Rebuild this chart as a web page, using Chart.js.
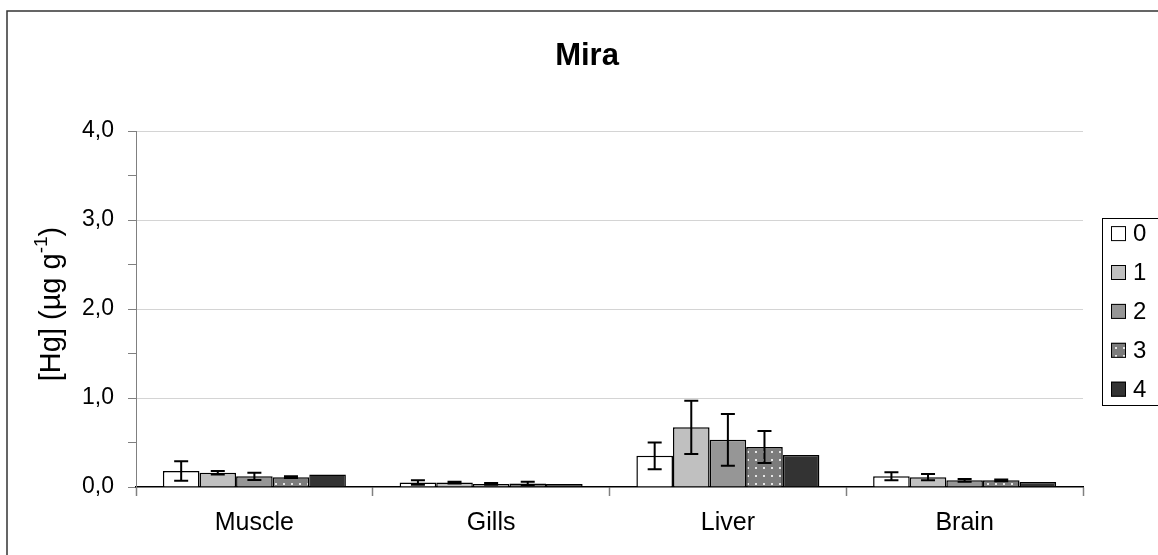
<!DOCTYPE html>
<html>
<head>
<meta charset="utf-8">
<title>Mira</title>
<script src="https://cdn.jsdelivr.net/npm/chart.js@4.4.1/dist/chart.umd.min.js"></script>
<style>
  html, body { margin: 0; padding: 0; background: #ffffff; }
  #wrap { width: 1158px; height: 555px; position: relative; }
</style>
</head>
<body>
<div id="wrap"><canvas id="chart" width="1158" height="555"></canvas></div>
<script>
// Tissues and exposure groups
const categories = ['Muscle', 'Gills', 'Liver', 'Brain'];
const seriesNames = ['0', '1', '2', '3', '4'];

// Mean [Hg] (µg g-1) per group, one value per tissue
const group0 = [0.18, 0.05, 0.35, 0.12];
const group1 = [0.16, 0.05, 0.67, 0.11];
const group2 = [0.12, 0.035, 0.53, 0.075];
const group3 = [0.11, 0.04, 0.45, 0.075];
const group4 = [0.14, 0.035, 0.36, 0.055];

// Standard deviations
const err0 = [0.11, 0.025, 0.15, 0.045];
const err1 = [0.02, 0.01, 0.30, 0.035];
const err2 = [0.04, 0.01, 0.29, 0.015];
const err3 = [0.01, 0.02, 0.18, 0.01];
const err4 = [0, 0, 0, 0];

// Y axis ticks (labels only on whole units)
const yTicks = [0, 0.5, 1, 1.5, 2, 2.5, 3, 3.5, 4];

const FONT = "'Liberation Sans', Arial, sans-serif";

// Dotted fill for group 3
function dottedPattern() {
  const c = document.createElement('canvas');
  c.width = 8; c.height = 8;
  const g = c.getContext('2d');
  g.fillStyle = '#7c7c7c';
  g.fillRect(0, 0, 8, 8);
  g.fillStyle = '#e6e6e6';
  g.fillRect(3, 3, 2, 2);
  return g.createPattern(c, 'repeat');
}

const fills = ['#ffffff', '#c0c0c0', '#969696', dottedPattern(), '#333333'];
const values = [group0, group1, group2, group3, group4];
const errors = [err0, err1, err2, err3, err4];

const datasets = seriesNames.map((name, i) => ({
  label: name,
  data: values[i],
  errors: errors[i],
  backgroundColor: fills[i],
  borderColor: '#000000',
  borderWidth: 1.5,
  barPercentage: 1.0,
  categoryPercentage: 0.773
}));

// White background and outer frame, title
const framePlugin = {
  id: 'frame',
  beforeDraw(chart) {
    const ctx = chart.ctx;
    ctx.save();
    ctx.fillStyle = '#ffffff';
    ctx.fillRect(0, 0, chart.width, chart.height);
    ctx.strokeStyle = '#333333';
    ctx.lineWidth = 1.5;
    ctx.strokeRect(7, 11, 1300, 700);
    ctx.fillStyle = '#000000';
    ctx.font = 'bold 31px ' + FONT;
    ctx.textAlign = 'center';
    ctx.textBaseline = 'alphabetic';
    ctx.fillText('Mira', 587, 65);
    ctx.restore();
  }
};

// Error bars drawn from each dataset's errors array
const errorBarPlugin = {
  id: 'errorBars',
  afterDatasetsDraw(chart) {
    const ctx = chart.ctx;
    const y = chart.scales.y;
    ctx.save();
    ctx.strokeStyle = '#000000';
    ctx.lineWidth = 2;
    chart.data.datasets.forEach((ds, i) => {
      const meta = chart.getDatasetMeta(i);
      meta.data.forEach((bar, j) => {
        const e = ds.errors[j];
        if (!e) return;
        const v = ds.data[j];
        const top = y.getPixelForValue(v + e);
        const bot = y.getPixelForValue(v - e);
        const half = 7;
        ctx.beginPath();
        ctx.moveTo(bar.x, top); ctx.lineTo(bar.x, bot);
        ctx.moveTo(bar.x - half, top); ctx.lineTo(bar.x + half, top);
        ctx.moveTo(bar.x - half, bot); ctx.lineTo(bar.x + half, bot);
        ctx.stroke();
      });
    });
    ctx.restore();
  }
};

// Rotated axis title with superscript, and the boxed legend on the right
const annotationsPlugin = {
  id: 'annotations',
  afterDraw(chart) {
    const ctx = chart.ctx;
    ctx.save();
    // axis title
    ctx.translate(50, 304);
    ctx.rotate(-Math.PI / 2);
    const mainFont = '29px ' + FONT;
    const supFont = '19px ' + FONT;
    const p1 = '[Hg] (µg g', sup = '-1', p2 = ')';
    ctx.font = mainFont;
    const w1 = ctx.measureText(p1).width;
    const w3 = ctx.measureText(p2).width;
    ctx.font = supFont;
    const w2 = ctx.measureText(sup).width;
    let x = -(w1 + w2 + w3) / 2;
    ctx.fillStyle = '#000000';
    ctx.textBaseline = 'alphabetic';
    ctx.textAlign = 'left';
    ctx.font = mainFont;
    ctx.fillText(p1, x, 10);
    x += w1;
    ctx.font = supFont;
    ctx.fillText(sup, x, -3);
    x += w2;
    ctx.font = mainFont;
    ctx.fillText(p2, x, 10);
    ctx.restore();

    // legend
    ctx.save();
    ctx.strokeStyle = '#000000';
    ctx.lineWidth = 1;
    ctx.strokeRect(1102.5, 218.5, 80, 187);
    chart.data.datasets.forEach((ds, i) => {
      const cy = 233.6 + i * 38.9;
      ctx.fillStyle = ds.backgroundColor;
      ctx.fillRect(1111, cy - 7.5, 15, 15);
      ctx.strokeStyle = '#000000';
      ctx.lineWidth = 1;
      ctx.strokeRect(1111.5, cy - 7, 14, 14);
      ctx.fillStyle = '#000000';
      ctx.font = '24px ' + FONT;
      ctx.textAlign = 'left';
      ctx.textBaseline = 'middle';
      ctx.fillText(ds.label, 1133, cy + 1);
    });
    ctx.restore();
  }
};

new Chart(document.getElementById('chart'), {
  type: 'bar',
  data: { labels: categories, datasets },
  plugins: [framePlugin, errorBarPlugin, annotationsPlugin],
  options: {
    responsive: false,
    animation: false,
    layout: { padding: { top: 131, right: 75, bottom: 0, left: 0 } },
    plugins: { legend: { display: false }, title: { display: false }, tooltip: { enabled: false } },
    scales: {
      x: {
        afterFit(scale) { scale.height = 68; },
        grid: { offset: true, drawOnChartArea: false, tickLength: 9, tickColor: '#808080', tickWidth: 1.5 },
        border: { color: '#000000', width: 1.5 },
        ticks: { color: '#000000', font: { family: FONT, size: 25 }, padding: 12 }
      },
      y: {
        min: 0,
        max: 4,
        afterFit(scale) { scale.width = 136; },
        afterBuildTicks(scale) { scale.ticks = yTicks.map(v => ({ value: v })); },
        grid: {
          color: (c) => (c.tick && c.tick.value > 0 && c.tick.value % 1 === 0) ? '#d4d4d4' : 'rgba(0,0,0,0)',
          tickColor: '#808080',
          tickLength: 8,
          lineWidth: 1
        },
        border: { color: '#808080', width: 1 },
        ticks: {
          color: '#000000',
          font: { family: FONT, size: 23 },
          padding: 14,
          callback: (v) => (v % 1 === 0 ? v.toFixed(1).replace('.', ',') : '')
        }
      }
    }
  }
});
</script>
</body>
</html>
